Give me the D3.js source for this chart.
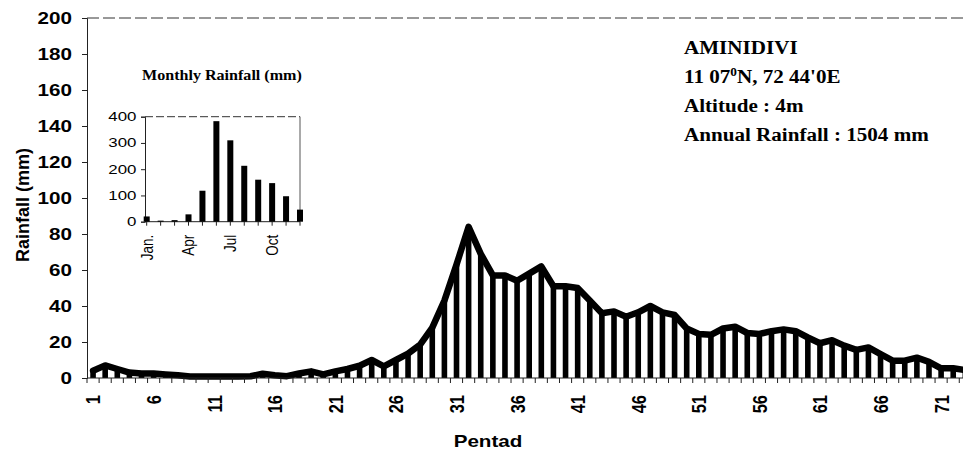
<!DOCTYPE html>
<html>
<head>
<meta charset="utf-8">
<script src="https://cdn.jsdelivr.net/npm/d3@7"></script>
<style>
  body { margin: 0; background: #fff; }
  svg { display: block; }
</style>
</head>
<body>
<div id="chart"></div>
<script>
const width = 963
const height = 454
const margin = { top: 18, left: 87, bottom: 76 }

// pentad rainfall (mm)
const pentads = d3.range(1, 74)
const rainfall = [
  4, 7, 5, 3, 2.5, 2.5, 2, 1.5, 0.8, 0.8,
  0.8, 0.8, 0.8, 1, 2.4, 1.5, 1, 2.5, 3.7, 2,
  3.7, 5, 6.8, 10, 6.5, 10, 13.5, 18.5, 28, 43,
  63, 84, 69, 57, 57, 54, 58, 62, 51, 51,
  50, 43, 36, 37, 34, 36.5, 40, 36.5, 35, 27.5,
  24.5, 24, 27.5, 28.5, 25, 24.5, 26, 27, 26, 22.5,
  19.3, 21, 18, 15.6, 17, 13.3, 9.6, 9.6, 11.3, 9,
  5.4, 5.4, 4.4
]
const yTicks = [0, 20, 40, 60, 80, 100, 120, 140, 160, 180, 200]
const pentadLabels = pentads.filter(p => p % 5 === 1)

// inset: monthly totals (mm)
const months = ["Jan", "Feb", "Mar", "Apr", "May", "Jun", "Jul", "Aug", "Sep", "Oct", "Nov", "Dec"]
const monthly = [20, 4, 6, 28, 118, 383, 310, 213, 160, 147, 97, 46]
const monthLabels = { Jan: "Jan.", Apr: "Apr", Jul: "Jul", Oct: "Oct" }
const insetTicks = [0, 100, 200, 300, 400]

const sans = "'Liberation Sans', Arial, sans-serif"
const serif = "'Liberation Serif', 'Times New Roman', serif"

const svg = d3.select("#chart").append("svg")
  .attr("width", width)
  .attr("height", height)
  .attr("viewBox", [0, 0, width, height])

// the scan is a bit wider than tall, stretch text a little
const sx = 1.25

const step = 12.115
const x = d3.scaleBand(pentads, [margin.left, margin.left + pentads.length * step]).padding(0)
const y = d3.scaleLinear([0, 200], [height - margin.bottom, margin.top])
const cx = d => x(d) + x.bandwidth() / 2

// top border, dashed
svg.append("line")
  .attr("x1", margin.left).attr("x2", width)
  .attr("y1", y(200)).attr("y2", y(200))
  .attr("stroke", "#333")
  .attr("stroke-dasharray", "12 4")

// y axis
const yAxisG = svg.append("g")
  .attr("transform", `translate(${margin.left},0)`)
  .call(d3.axisLeft(y).tickValues(yTicks).tickSize(5).tickPadding(0))
yAxisG.select(".domain").attr("stroke", "#222")
yAxisG.selectAll(".tick line").attr("stroke", "#222")
yAxisG.selectAll(".tick text")
  .attr("x", null)
  .attr("transform", `translate(-15,0) scale(${sx},1)`)
  .attr("font-family", sans)
  .attr("font-weight", "bold")
  .attr("font-size", 16.5)
  .attr("fill", "#000")

// bars
svg.append("g")
  .selectAll("rect")
  .data(pentads)
  .join("rect")
  .attr("x", d => cx(d) - 2.8)
  .attr("width", 5.6)
  .attr("y", (d, i) => y(rainfall[i]))
  .attr("height", (d, i) => y(0) - y(rainfall[i]))
  .attr("fill", "#000")

// line over the bars
const line = d3.line()
  .x(d => cx(d))
  .y((d, i) => y(rainfall[i]))

svg.append("path")
  .datum(pentads)
  .attr("d", line)
  .attr("fill", "none")
  .attr("stroke", "#000")
  .attr("stroke-width", 6.5)
  .attr("stroke-linejoin", "round")
  .attr("stroke-linecap", "round")

// x axis: ticks between pentads, labels every 5th
const xAxisG = svg.append("g")
  .attr("transform", `translate(0,${y(0)})`)
xAxisG.append("line")
  .attr("x1", margin.left).attr("x2", width)
  .attr("stroke", "#222")
xAxisG.selectAll("line.tk")
  .data(pentads)
  .join("line")
  .attr("class", "tk")
  .attr("x1", d => x(d)).attr("x2", d => x(d))
  .attr("y1", 0).attr("y2", 5)
  .attr("stroke", "#222")
xAxisG.selectAll("text")
  .data(pentadLabels)
  .join("text")
  .attr("transform", d => `translate(${cx(d)},17) rotate(-90) scale(1,${sx})`)
  .attr("text-anchor", "end")
  .attr("dy", "0.36em")
  .attr("font-family", sans)
  .attr("font-weight", "bold")
  .attr("font-size", 16.5)
  .text(d => d)

// axis titles
svg.append("text")
  .attr("transform", "translate(29,205) rotate(-90)")
  .attr("text-anchor", "middle")
  .attr("font-family", sans)
  .attr("font-weight", "bold")
  .attr("font-size", 18)
  .text("Rainfall (mm)")

svg.append("text")
  .attr("transform", `translate(488,447) scale(${sx},1)`)
  .attr("text-anchor", "middle")
  .attr("font-family", sans)
  .attr("font-weight", "bold")
  .attr("font-size", 16.5)
  .text("Pentad")

// station info
const info = svg.append("g")
  .attr("transform", "translate(684,0) scale(1.11,1)")
  .attr("font-family", serif)
  .attr("font-weight", "bold")
  .attr("font-size", 19)
info.append("text").attr("y", 54).text("AMINIDIVI")
const coord = info.append("text").attr("y", 83)
coord.append("tspan").text("11 07")
coord.append("tspan").attr("font-size", 12).attr("dy", -7).text("0")
coord.append("tspan").attr("dy", 7).text("N, 72 44'0E")
info.append("text").attr("y", 112.5).text("Altitude : 4m")
info.append("text").attr("y", 141.5).text("Annual Rainfall : 1504 mm")

// inset: monthly rainfall
const x2 = d3.scalePoint(months, [146.7, 300])
const y2 = d3.scaleLinear([0, 400], [221.7, 116.7])
const inset = svg.append("g")

inset.append("text")
  .attr("transform", "translate(142,80) scale(1.11,1)")
  .attr("font-family", serif)
  .attr("font-weight", "bold")
  .attr("font-size", 14.5)
  .text("Monthly Rainfall (mm)")

inset.append("line")
  .attr("x1", 145).attr("x2", 300)
  .attr("y1", y2(400)).attr("y2", y2(400))
  .attr("stroke", "#333")
  .attr("stroke-dasharray", "8 3")
inset.append("line")
  .attr("x1", 300).attr("x2", 300)
  .attr("y1", y2(400)).attr("y2", y2(0))
  .attr("stroke", "#555")

const y2Axis = inset.append("g")
  .attr("transform", "translate(145,0)")
  .call(d3.axisLeft(y2).tickValues(insetTicks).tickSize(4).tickPadding(0))
y2Axis.select(".domain").attr("stroke", "#222")
y2Axis.selectAll(".tick line").attr("stroke", "#222")
y2Axis.selectAll(".tick text")
  .attr("x", null)
  .attr("transform", "translate(-8.5,0) scale(1.35,1)")
  .attr("font-family", sans)
  .attr("font-size", 12.5)
  .attr("fill", "#000")

inset.append("line")
  .attr("x1", 145).attr("x2", 300)
  .attr("y1", y2(0)).attr("y2", y2(0))
  .attr("stroke", "#222")
inset.selectAll("line.mt")
  .data(months)
  .join("line")
  .attr("class", "mt")
  .attr("x1", d => x2(d)).attr("x2", d => x2(d))
  .attr("y1", y2(0)).attr("y2", y2(0) + 4)
  .attr("stroke", "#222")

inset.selectAll("rect")
  .data(months)
  .join("rect")
  .attr("x", d => x2(d) - 3)
  .attr("width", 6)
  .attr("y", (d, i) => y2(monthly[i]))
  .attr("height", (d, i) => y2(0) - y2(monthly[i]))
  .attr("fill", "#000")

inset.selectAll("text.ml")
  .data(months.filter(m => monthLabels[m]))
  .join("text")
  .attr("class", "ml")
  .attr("transform", d => `translate(${x2(d)},${y2(0) + 13}) rotate(-90) scale(1,1.2)`)
  .attr("text-anchor", "end")
  .attr("dy", "0.36em")
  .attr("font-family", sans)
  .attr("font-size", 13.5)
  .text(d => monthLabels[d])
</script>
</body>
</html>
